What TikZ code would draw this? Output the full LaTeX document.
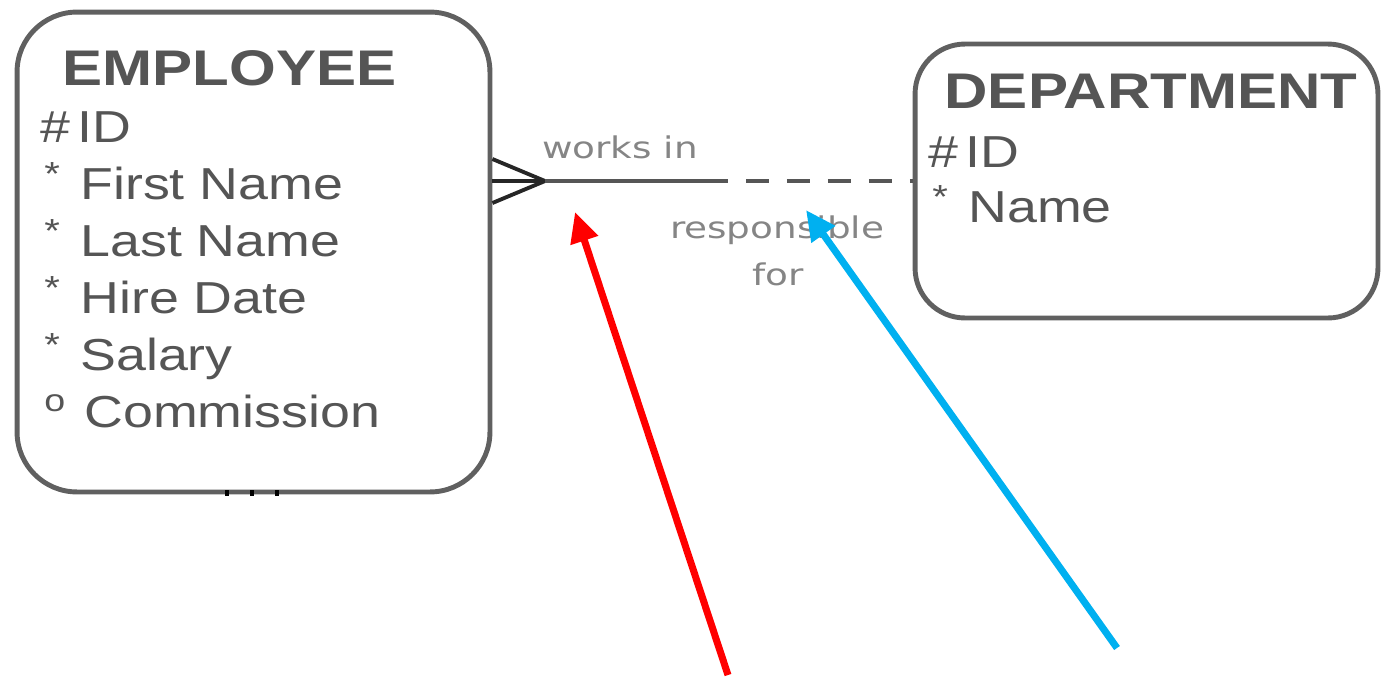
\documentclass[tikz,border=0pt]{standalone}
\usepackage{fontspec}
\usetikzlibrary{arrows.meta,calc}
\newfontfamily\erfont{Liberation Sans}[FakeStretch=1.2]
\newfontfamily\relfont{DejaVu Sans}[FakeStretch=1.25]
\definecolor{boxgray}{HTML}{606060}
\definecolor{txtgray}{HTML}{555555}
\definecolor{lblgray}{HTML}{858585}
\definecolor{arrred}{HTML}{FF0000}
\definecolor{arrblue}{HTML}{00B0F0}
\newcommand{\mand}{\makebox[0.8cm][l]{\hspace{0.08cm}\raisebox{0.55ex}{\fontsize{19}{20}\selectfont*}}}
\newcommand{\optn}{\makebox[0.88cm][l]{\hspace{0.08cm}\textsuperscript{o}}}

\begin{document}
\begin{tikzpicture}[x=0.02cm,y=-0.02cm,
  entity/.style={draw=boxgray,line width=2.8pt,fill=white,inner sep=0pt},
  etitle/.style={text=txtgray,anchor=base,font=\erfont\bfseries\fontsize{28.5}{32}\selectfont},
  attr/.style={text=txtgray,anchor=base west,inner sep=0pt,font=\erfont\fontsize{25.5}{30}\selectfont},
  rel/.style={draw=boxgray!90!black,line width=1.9pt},
  crow/.style={draw=black!85,line width=2.2pt,line join=round},
  rlabel/.style={text=lblgray,anchor=base,inner sep=0pt,font=\relfont\fontsize{17}{20}\selectfont},
  pointer/.style={line width=4pt,-{Triangle[length=0.6cm,width=0.55cm]}}]
\useasboundingbox (0,0) rectangle (1381,677);

% entities
\node[entity,minimum width=9.46cm,minimum height=9.6cm,rounded corners=1.2cm] (emp) at (253.5,252) {};
\node[entity,minimum width=9.26cm,minimum height=5.48cm,rounded corners=1cm] (dept) at (1146.5,181) {};

\node[etitle] (emptitle) at (229.5,85) {EMPLOYEE};
\foreach \a [count=\i from 0] in {\#\,ID,\mand First Name,\mand Last Name,\mand Hire Date,\mand Salary,\optn Commission}
  \node[attr] (empattr\i) at (40,142+57*\i) {\a};

\node[etitle] (depttitle) at (1151,108) {DEPARTMENT};
\node[attr] (deptattr0) at (928,167) {\#\,ID};
\node[attr] (deptattr1) at (928,222) {\mand Name};

% stub under employee
\foreach \x in {227,252,277}
  \draw[black,line width=2.2pt] (\x,490) -- (\x,496);

% relationship
\coordinate (foot) at (545,181);
\coordinate (split) at (705,181);
\draw[crow] ($(foot -| emp.east)+(0,-22)$) -- (foot) -- ($(foot -| emp.east)+(0,22)$);
\draw[crow] (foot -| emp.east) -- (foot);
\draw[rel] (foot) -- (split);
\draw[rel,dash pattern=on 0.46cm off 0.36cm] (split) -- (dept.west);
\node[rlabel] (worksin) at (620,158) {works in};
\node[rlabel] (resp) at (777,238) {responsible};
\node[rlabel] (respfor) at (778,285) {for};

% pointers
\coordinate (redtail) at (728,675);
\coordinate (redtip) at (575,212);
\coordinate (bluetail) at (1117,648);
\coordinate (bluetip) at (806,210);
\draw[pointer,arrred] (redtail) -- (redtip);
\draw[pointer,arrblue] (bluetail) -- (bluetip);
\end{tikzpicture}
\end{document}
